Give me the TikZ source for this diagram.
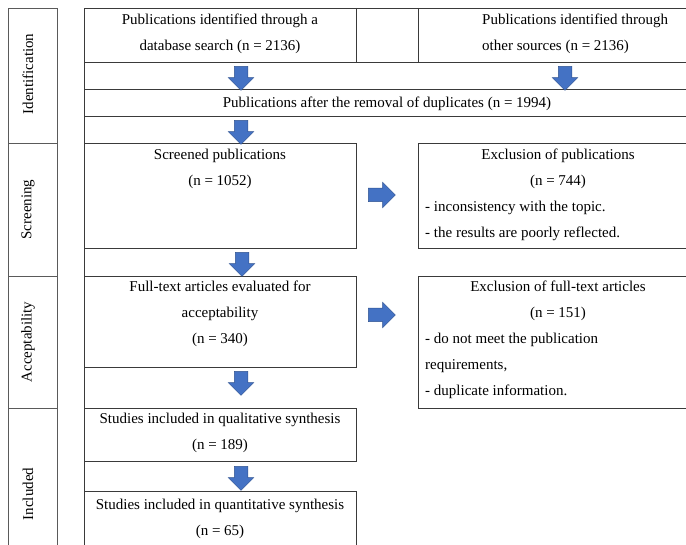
\documentclass[tikz,border=0pt]{standalone}
\usepackage{fontspec}
\setmainfont{Liberation Serif}
\usetikzlibrary{shapes.arrows}
\definecolor{arrfill}{HTML}{4472C4}
\definecolor{arredge}{HTML}{2F528F}
\definecolor{rulecol}{HTML}{3A3A3A}
\definecolor{sidecol}{HTML}{5A5A5A}
\begin{document}
\begin{tikzpicture}[x=1pt,y=-1pt,
  tbl/.style={draw=rulecol, line width=0.8pt},
  sidetbl/.style={draw=sidecol, line width=0.9pt},
  txt/.style={font=\fontsize{15}{26}\selectfont, inner sep=0pt, align=center, anchor=north},
  txtl/.style={font=\fontsize{15}{26}\selectfont, inner sep=0pt, align=left, anchor=north west},
  side/.style={font=\fontsize{15}{18}\selectfont, inner sep=0pt, rotate=90},
  blkarrow/.style={single arrow, fill=arrfill, draw=arredge, line width=0.5pt,
    inner sep=6.5pt, single arrow head extend=6pt, minimum height=24pt},
  downarrow/.style={blkarrow, rotate=-90},
  rightarrow/.style={blkarrow, minimum height=27pt}
]
\useasboundingbox (0,0) rectangle (686,545);

% left column
\draw[sidetbl] (8,545) -- (8,8) -- (57,8) -- (57,545);
\draw[sidetbl] (8,143) -- (57,143);
\draw[sidetbl] (8,276) -- (57,276);
\draw[sidetbl] (8,408) -- (57,408);

\node[side] (s1) at (28,74) {Identification};
\node[side] (s2) at (28,209.5) {Screening};
\node[side] (s3) at (28,342) {Acceptability};
\node[side] (s4) at (28,494) {Included};

% main table lines
\draw[tbl] (84,545) -- (84,8);
\draw[tbl] (84,8) -- (686,8);
\draw[tbl] (84,62) -- (686,62);
\draw[tbl] (84,89) -- (686,89);
\draw[tbl] (84,116) -- (686,116);
\draw[tbl] (356,8) -- (356,62);
\draw[tbl] (418,8) -- (418,62);
% screening row
\draw[tbl] (84,143) -- (356,143) -- (356,248) -- (84,248);
\draw[tbl] (686,143) -- (418,143) -- (418,248) -- (686,248);
% acceptability row
\draw[tbl] (84,276) -- (356,276) -- (356,367) -- (84,367);
\draw[tbl] (686,276) -- (418,276) -- (418,408) -- (686,408);
% included row
\draw[tbl] (84,408) -- (356,408) -- (356,461) -- (84,461);
\draw[tbl] (84,491) -- (356,491) -- (356,545);

% texts
\node[txt] (t1) at (220,14) {Publications identified through a\\database search (n = 2136)};
\node[txtl] (t2) at (482,14) {Publications identified through\\other sources (n = 2136)};
\node[txt] (t3) at (387,97) {Publications after the removal of duplicates (n = 1994)};
\node[txt] (t4) at (220,149) {Screened publications\\(n = 1052)};
\node[txt] (t5) at (558,149) {Exclusion of publications\\(n = 744)};
\node[txtl] (t5b) at (425,201) {- inconsistency with the topic.\\- the results are poorly reflected.};
\node[txt] (t6) at (220,281) {Full-text articles evaluated for\\acceptability\\(n = 340)};
\node[txt] (t7) at (558,281) {Exclusion of full-text articles\\(n = 151)};
\node[txtl] (t7b) at (425,333) {- do not meet the publication\\requirements,\\- duplicate information.};
\node[txt] (t8) at (220,413) {Studies included in qualitative synthesis\\(n = 189)};
\node[txt] (t9) at (220,499) {Studies included in quantitative synthesis\\(n = 65)};

% block arrows
\node[downarrow] (a1) at (241,75) {};
\node[downarrow] (a2) at (565,75) {};
\node[downarrow] (a3) at (241,129) {};
\node[downarrow] (a4) at (242,261) {};
\node[rightarrow] (a5) at (378.5,195) {};
\node[downarrow] (a6) at (241,380) {};
\node[rightarrow] (a7) at (378.5,315) {};
\node[downarrow] (a8) at (241,475) {};
\end{tikzpicture}
\end{document}
